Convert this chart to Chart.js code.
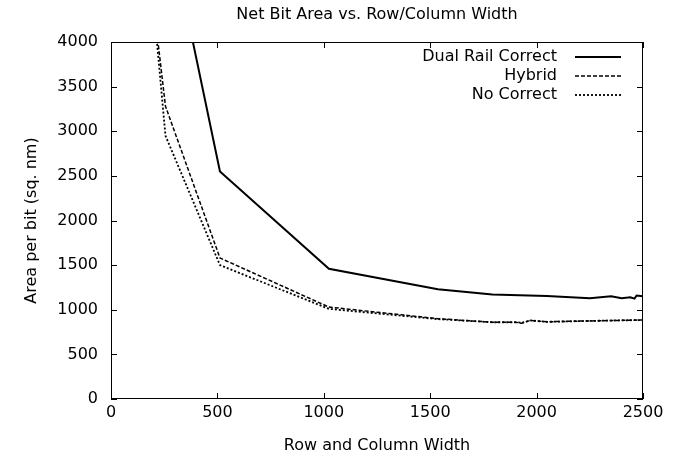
<!DOCTYPE html>
<html>
<head>
<meta charset="utf-8">
<script src="https://cdn.jsdelivr.net/npm/chart.js@4"></script>
<style>
  body { margin: 0; background: #fff; }
  #wrap { width: 682px; height: 459px; }
</style>
</head>
<body>
<div id="wrap"><canvas id="chart"></canvas></div>
<script>
// values
const dualX = [256, 512, 1024, 1536, 1792, 2048, 2250, 2350, 2400, 2440, 2460, 2470, 2500];
const dualY = [5470, 2550, 1460, 1230, 1170, 1155, 1130, 1150, 1130, 1140, 1125, 1160, 1150];
const hybridX = [128, 256, 512, 1024, 1536, 1792, 1900, 1930, 1970, 2048, 2250, 2500];
const hybridY = [5900, 3280, 1580, 1030, 900, 860, 860, 850, 880, 865, 875, 885];
const noCorrX = [128, 256, 512, 1024, 1536, 1792, 1900, 1930, 1970, 2048, 2250, 2500];
const noCorrY = [6300, 2950, 1500, 1010, 895, 860, 860, 855, 880, 865, 875, 885];
const seriesNames = ["Dual Rail Correct", "Hybrid", "No Correct"];
const xTicks = [0, 500, 1000, 1500, 2000, 2500];
const yTicks = [0, 500, 1000, 1500, 2000, 2500, 3000, 3500, 4000];

const font = "'DejaVu Sans', sans-serif";

function pts(xs, ys) {
    return xs.map((x, i) => ({ x: x, y: ys[i] }));
}

const dashes = [[], [4, 2], [2, 2]];
const widths = [2, 1.5, 1.8];

// gnuplot style box, inward ticks, title and legend
const framePlugin = {
    id: 'frame',
    afterDatasetsDraw(chart) {
        const ctx = chart.ctx;
        const a = chart.chartArea;
        const xs = chart.scales.x, ys = chart.scales.y;
        ctx.save();
        ctx.strokeStyle = '#000';
        ctx.lineWidth = 1;
        ctx.strokeRect(a.left + 0.5, a.top + 0.5, a.right - a.left - 1, a.bottom - a.top - 1);
        ctx.beginPath();
        xTicks.forEach(v => {
            const px = Math.round(xs.getPixelForValue(v)) + 0.5;
            ctx.moveTo(px, a.bottom); ctx.lineTo(px, a.bottom - 6);
            ctx.moveTo(px, a.top); ctx.lineTo(px, a.top + 6);
        });
        yTicks.forEach(v => {
            const py = Math.round(ys.getPixelForValue(v)) + 0.5;
            ctx.moveTo(a.left, py); ctx.lineTo(a.left + 6, py);
            ctx.moveTo(a.right, py); ctx.lineTo(a.right - 6, py);
        });
        ctx.stroke();

        // title
        ctx.fillStyle = '#000';
        ctx.font = '16px ' + font;
        ctx.textAlign = 'center';
        ctx.textBaseline = 'middle';
        ctx.fillText('Net Bit Area vs. Row/Column Width', (a.left + a.right) / 2, 15);

        // legend
        ctx.font = '16px ' + font;
        ctx.textAlign = 'right';
        seriesNames.forEach((name, i) => {
            const y = 57 + i * 19;
            ctx.fillText(name, 557, y);
            ctx.beginPath();
            ctx.setLineDash(dashes[i]);
            ctx.lineWidth = widths[i];
            ctx.moveTo(575, y); ctx.lineTo(621, y);
            ctx.stroke();
        });
        ctx.restore();
    }
};

const chart = document.getElementById('chart').getContext('2d');
const myChart = new Chart(chart, {
    type: 'line',
    data: {
        datasets: [
            { label: seriesNames[0], data: pts(dualX, dualY), borderColor: '#000', borderWidth: widths[0], pointRadius: 0, borderDash: dashes[0] },
            { label: seriesNames[1], data: pts(hybridX, hybridY), borderColor: '#000', borderWidth: widths[1], pointRadius: 0, borderDash: dashes[1] },
            { label: seriesNames[2], data: pts(noCorrX, noCorrY), borderColor: '#000', borderWidth: widths[2], pointRadius: 0, borderDash: dashes[2] }
        ]
    },
    options: {
        responsive: true,
        maintainAspectRatio: false,
        animation: false,
        layout: { padding: { top: 42, right: 39, left: 0, bottom: 0 } },
        plugins: { legend: { display: false }, title: { display: false }, tooltip: { enabled: false } },
        scales: {
            x: {
                type: 'linear', min: 0, max: 2500,
                afterFit(s) { s.height = 60; },
                afterBuildTicks(s) { s.ticks = xTicks.map(v => ({ value: v })); },
                grid: { display: false, drawTicks: false },
                border: { display: false },
                ticks: { color: '#000', font: { family: font, size: 16 }, padding: 4, maxRotation: 0, callback: v => String(v) },
                title: { display: true, text: 'Row and Column Width', color: '#000', font: { family: font, size: 16 }, padding: { top: 8 } }
            },
            y: {
                type: 'linear', min: 0, max: 4000,
                afterFit(s) { s.width = 111; },
                afterBuildTicks(s) { s.ticks = yTicks.map(v => ({ value: v })); },
                grid: { display: false, drawTicks: false },
                border: { display: false },
                ticks: { color: '#000', font: { family: font, size: 16 }, padding: 13, callback: v => String(v) },
                title: { display: true, text: 'Area per bit (sq. nm)', color: '#000', font: { family: font, size: 16 }, padding: { top: 22, bottom: 0 } }
            }
        }
    },
    plugins: [framePlugin]
});
</script>
</body>
</html>
